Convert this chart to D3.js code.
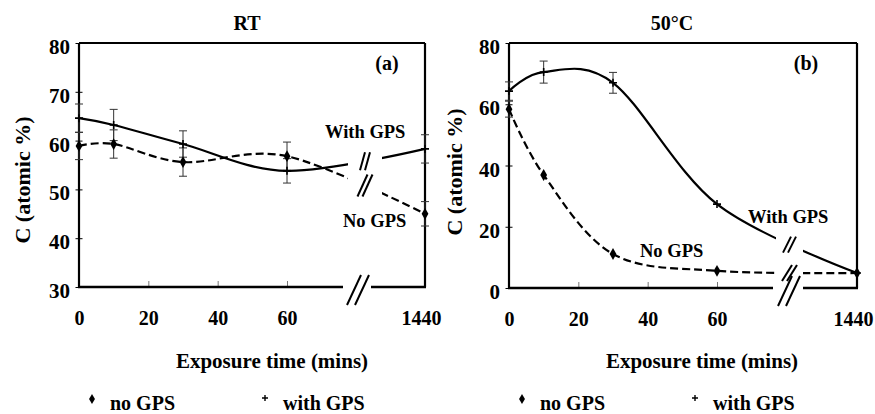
<!DOCTYPE html>
<html>
<head>
<meta charset="utf-8">
<script src="https://cdn.jsdelivr.net/npm/d3@7"></script>
<style>
  body { margin: 0; background: #fff; }
  text { font-family: "Liberation Serif", "Times New Roman", serif; font-weight: bold; fill: #000; }
</style>
</head>
<body>
<script>
// exposure times (mins), the last one sits after the axis break
var times = [0, 10, 30, 60, 1440];
var xTicks = [0, 20, 40, 60, 1440];

// panel (a) RT
var rtNoGps = [58.9, 59.3, 55.6, 56.8, 45.0];
var rtWithGps = [64.6, 63.2, 59.3, 53.8, 58.3];
var rtNoGpsErr = [2.8, 2.9, 2.9, 2.9, 2.5];
var rtWithGpsErr = [2.9, 3.2, 2.7, 2.5, 2.9];
var rtYTicks = [30, 40, 50, 60, 70, 80];

// panel (b) 50°C
var hotNoGps = [58.4, 36.9, 11.1, 5.6, 4.9];
var hotWithGps = [64.3, 70.5, 67.0, 27.4, 4.9];
var hotNoGpsErr = [2.6, 0, 0, 0, 0];
var hotWithGpsErr = [3.0, 3.6, 3.4, 0, 0];
var hotYTicks = [0, 20, 40, 60, 80];

var width = 875;
var height = 414;
var svg = d3.select("body")
    .append("svg")
    .attr("width", width)
    .attr("height", height);

var panels = [
    {id: "a", title: "RT", tag: "(a)", left: 79, right: 425, top: 43, bottom: 287, x60: 287,
     yDomain: [30, 80], yTicks: rtYTicks, noGps: rtNoGps, withGps: rtWithGps,
     noErr: rtNoGpsErr, withErr: rtWithGpsErr,
     curveGap: [348, 382], axisGap: [343, 371],
     titleX: 247, yTitleX: 22, yTitleY: 180, tagX: 387, xLabelX: 272, legendX: 92,
     withLabel: [325, 138], noLabel: [343, 227],
     breaks: [{s: "with", h: 18, w: 5}, {s: "no", h: 22, w: 10}]},
    {id: "b", title: "50°C", tag: "(b)", left: 509, right: 857, top: 43, bottom: 288, x60: 717,
     yDomain: [0, 80], yTicks: hotYTicks, noGps: hotNoGps, withGps: hotWithGps,
     noErr: hotNoGpsErr, withErr: hotWithGpsErr,
     curveGap: [776, 803], axisGap: [773, 803],
     titleX: 672, yTitleX: 454, yTitleY: 172, tagX: 806, xLabelX: 702, legendX: 522,
     withLabel: [748, 223], noLabel: [640, 257],
     breaks: [{s: "with", h: 16, w: 8}, {s: "no", h: 16, w: 10}]}
];

function breakMark(g, cx, cy, h, w, sep) {
    [-sep / 2, sep / 2].forEach(function(o) {
        g.append("line")
            .attr("x1", cx + o - w / 2).attr("y1", cy + h / 2)
            .attr("x2", cx + o + w / 2).attr("y2", cy - h / 2)
            .style("stroke", "#000").style("stroke-width", 2);
    });
}

// y of a path at a given x (binary search along the path)
function yAtX(node, xv) {
    var len = node.getTotalLength(), lo = 0, hi = len, p;
    for (var k = 0; k < 40; k++) {
        var mid = (lo + hi) / 2;
        p = node.getPointAtLength(mid);
        if (p.x < xv) lo = mid; else hi = mid;
    }
    return p.y;
}

panels.forEach(function(P) {
    var g = svg.append("g");
    var x = d3.scaleLinear().domain([0, 60, 1440]).range([P.left, P.x60, P.right]);
    var y = d3.scaleLinear().domain(P.yDomain).range([P.bottom, P.top]);

    // clip out the break gap for the curves
    var clipId = "clip-" + P.id;
    var cp = svg.append("clipPath").attr("id", clipId);
    cp.append("rect").attr("x", 0).attr("y", 0).attr("width", P.curveGap[0]).attr("height", height);
    cp.append("rect").attr("x", P.curveGap[1]).attr("y", 0).attr("width", width - P.curveGap[1]).attr("height", height);

    // y axis with ticks crossing the axis line
    var yAxis = g.append("g")
        .attr("transform", "translate(" + (P.left + 3.5) + ",0)")
        .call(d3.axisLeft(y).tickValues(P.yTicks).tickSize(7).tickPadding(5.5).tickFormat(d3.format("d")));
    yAxis.select(".domain").remove();
    yAxis.selectAll(".tick line").style("stroke", "#000").style("stroke-width", 1);
    yAxis.selectAll("text").attr("dy", "0.5em").style("font-size", "21px");

    // x axis with inward ticks
    var xAxis = g.append("g")
        .attr("transform", "translate(0," + P.bottom + ")")
        .call(d3.axisBottom(x).tickValues(xTicks).tickSize(-6).tickPadding(24).tickFormat(d3.format("d")));
    xAxis.select(".domain").remove();
    xAxis.selectAll(".tick line").style("stroke", "#777").style("stroke-width", 1);
    xAxis.selectAll("text").style("font-size", "20px")
        .attr("x", function(d) { return d === 1440 ? -4 : 0; });

    // frame
    g.append("line").attr("x1", P.left).attr("x2", P.right).attr("y1", P.top).attr("y2", P.top)
        .style("stroke", "#000").style("stroke-width", 2.2);
    g.append("line").attr("x1", P.right).attr("x2", P.right).attr("y1", P.top).attr("y2", P.bottom)
        .style("stroke", "#000").style("stroke-width", 2.2);
    g.append("line").attr("x1", P.left).attr("x2", P.left).attr("y1", P.top).attr("y2", P.bottom + 1)
        .style("stroke", "#000").style("stroke-width", 2.2);
    g.append("line").attr("x1", P.left - 1).attr("x2", P.axisGap[0]).attr("y1", P.bottom).attr("y2", P.bottom)
        .style("stroke", "#000").style("stroke-width", 2.6);
    g.append("line").attr("x1", P.axisGap[1]).attr("x2", P.right + 1).attr("y1", P.bottom).attr("y2", P.bottom)
        .style("stroke", "#000").style("stroke-width", 2.6);
    breakMark(g, (P.axisGap[0] + P.axisGap[1]) / 2 + 1, P.bottom + 3, 30, 14, 8);

    // error bars
    function errorBars(vals, errs) {
        vals.forEach(function(v, i) {
            if (!errs[i]) return;
            var cx = x(times[i]);
            var y1 = y(v + errs[i]), y2 = y(v - errs[i]);
            g.append("line").attr("x1", cx).attr("x2", cx).attr("y1", y1).attr("y2", y2)
                .style("stroke", "#333").style("stroke-width", 1);
            [y1, y2].forEach(function(yy) {
                g.append("line").attr("x1", cx - 4).attr("x2", cx + 4).attr("y1", yy).attr("y2", yy)
                    .style("stroke", "#333").style("stroke-width", 1);
            });
        });
    }
    errorBars(P.withGps, P.withErr);
    errorBars(P.noGps, P.noErr);

    var line = d3.line()
        .x(function(d, i) { return x(times[i]); })
        .y(function(d) { return y(d); })
        .curve(d3.curveCardinal);

    var withPath = g.append("path")
        .datum(P.withGps)
        .attr("d", line)
        .attr("clip-path", "url(#" + clipId + ")")
        .style("fill", "none").style("stroke", "#000").style("stroke-width", 2.2);
    var noPath = g.append("path")
        .datum(P.noGps)
        .attr("d", line)
        .attr("clip-path", "url(#" + clipId + ")")
        .style("fill", "none").style("stroke", "#000").style("stroke-width", 2.2)
        .style("stroke-dasharray", "8,4");

    // break marks on the curves
    var gx = (P.curveGap[0] + P.curveGap[1]) / 2;
    P.breaks.forEach(function(b) {
        var node = (b.s === "with" ? withPath : noPath).node();
        breakMark(g, gx, yAtX(node, gx), b.h, b.w, 5);
    });

    // markers
    var diamond = d3.symbol().type(d3.symbolDiamond).size(40);
    g.selectAll(".dia")
        .data(P.noGps)
        .enter()
        .append("path")
        .attr("d", diamond)
        .attr("transform", function(d, i) { return "translate(" + x(times[i]) + "," + y(d) + ")"; })
        .style("fill", "#000");
    g.selectAll(".plus")
        .data(P.withGps)
        .enter()
        .append("path")
        .attr("d", "M-4,0H4M0,-4V4")
        .attr("transform", function(d, i) { return "translate(" + x(times[i]) + "," + y(d) + ")"; })
        .style("stroke", "#000").style("stroke-width", 1.6);

    // texts
    g.append("text").attr("x", P.titleX).attr("y", 30).attr("text-anchor", "middle")
        .style("font-size", "20px").text(P.title);
    g.append("text").attr("x", P.tagX).attr("y", 70).attr("text-anchor", "middle")
        .style("font-size", "20px").text(P.tag);
    g.append("text")
        .attr("transform", "translate(" + P.yTitleX + "," + P.yTitleY + ") rotate(-90)")
        .attr("text-anchor", "middle").attr("dy", "0.35em")
        .style("font-size", "22px").text("C (atomic %)");
    g.append("text").attr("x", P.xLabelX).attr("y", 368).attr("text-anchor", "middle")
        .style("font-size", "21px").text("Exposure time (mins)");
    g.append("text").attr("x", P.withLabel[0]).attr("y", P.withLabel[1])
        .style("font-size", "18.5px").text("With GPS");
    g.append("text").attr("x", P.noLabel[0]).attr("y", P.noLabel[1])
        .style("font-size", "18.5px").text("No GPS");

    // legend
    var lx = P.legendX;
    g.append("path").attr("d", d3.symbol().type(d3.symbolDiamond).size(30))
        .attr("transform", "translate(" + lx + ",399)").style("fill", "#000");
    g.append("text").attr("x", lx + 18).attr("y", 410).style("font-size", "20px").text("no GPS");
    g.append("path").attr("d", "M-3,0H3M0,-3V3")
        .attr("transform", "translate(" + (lx + 173) + ",398)")
        .style("stroke", "#000").style("stroke-width", 1.4);
    g.append("text").attr("x", lx + 191).attr("y", 410).style("font-size", "20px").text("with GPS");
});
</script>
</body>
</html>
